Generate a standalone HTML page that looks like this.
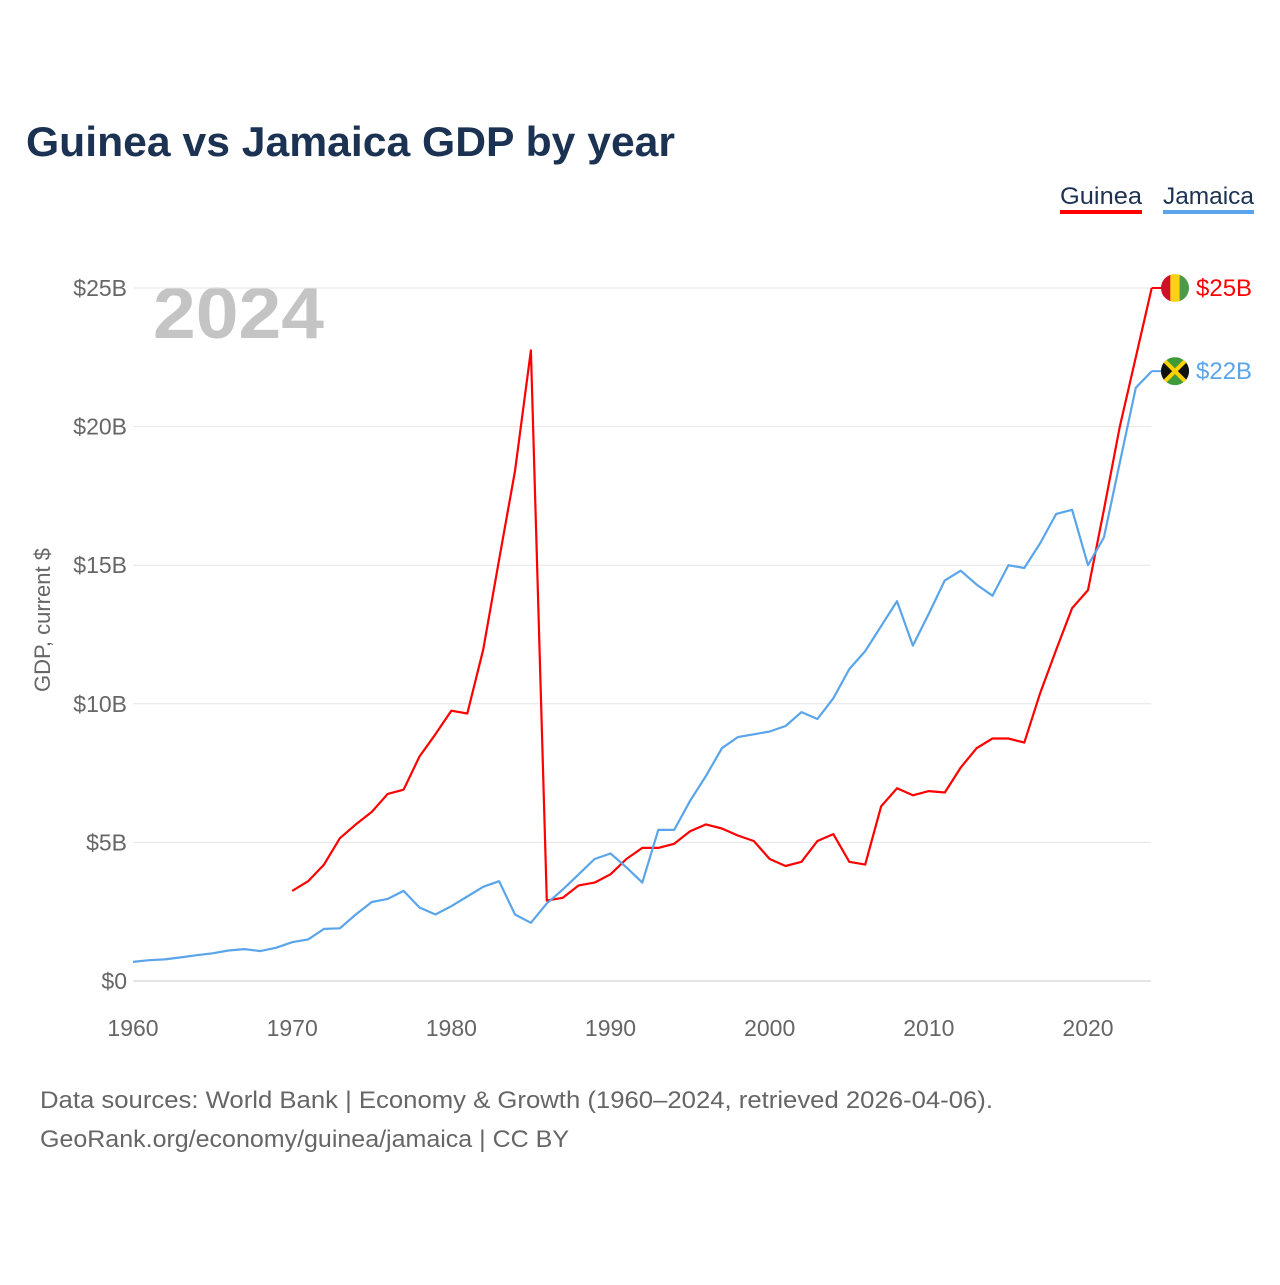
<!DOCTYPE html>
<html><head><meta charset="utf-8"><style>
body{margin:0;background:#fff;font-family:"Liberation Sans",sans-serif}
svg text{font-family:"Liberation Sans",sans-serif}
</style></head><body>
<svg id="c" width="1280" height="1280" xmlns="http://www.w3.org/2000/svg">
<text x="26" y="156" font-size="42" font-weight="bold" fill="#1b3252" textLength="649" lengthAdjust="spacingAndGlyphs">Guinea vs Jamaica GDP by year</text>
<g>
<text x="1060" y="204" font-size="24" fill="#1b3252" textLength="82" lengthAdjust="spacingAndGlyphs">Guinea</text>
<rect x="1060" y="210" width="82" height="4" fill="#ff0000"/>
<text x="1163" y="204" font-size="24" fill="#1b3252" textLength="91" lengthAdjust="spacingAndGlyphs">Jamaica</text>
<rect x="1163" y="210" width="91" height="4" fill="#5aa5ea"/>
</g>
<text x="153" y="338" font-size="72" font-weight="bold" fill="#c4c4c4" textLength="171" lengthAdjust="spacingAndGlyphs">2024</text>
<text transform="translate(50,620) rotate(-90)" text-anchor="middle" font-size="22" fill="#666">GDP, current $</text>
<g id="grid"></g><g id="xt"></g><g id="lines"></g><g id="ends"></g>
<text x="40" y="1108" font-size="24" fill="#666" textLength="953" lengthAdjust="spacingAndGlyphs">Data sources: World Bank | Economy &amp; Growth (1960–2024, retrieved 2026-04-06).</text>
<text x="40" y="1147" font-size="24" fill="#666" textLength="529" lengthAdjust="spacingAndGlyphs">GeoRank.org/economy/guinea/jamaica | CC BY</text>
</svg>
<script>
const yTicks=[0,5,10,15,20,25];
const xTicks=[1960,1970,1980,1990,2000,2010,2020];
const jamaicaStart=1960;
const jamaica=[0.69,0.75,0.78,0.85,0.93,1.0,1.1,1.15,1.08,1.2,1.4,1.5,1.88,1.9,2.4,2.85,2.96,3.25,2.65,2.4,2.7,3.05,3.4,3.6,2.4,2.1,2.8,3.3,3.85,4.4,4.6,4.1,3.55,5.45,5.45,6.5,7.4,8.4,8.8,8.9,9.0,9.2,9.7,9.45,10.2,11.25,11.9,12.8,13.7,12.1,13.25,14.45,14.8,14.3,13.9,15.0,14.9,15.8,16.85,17.0,15.0,16.0,18.7,21.4,22.0];
const guineaStart=1970;
const guinea=[3.25,3.6,4.2,5.15,5.65,6.1,6.75,6.9,8.1,8.9,9.75,9.65,11.95,15.2,18.4,22.75,2.9,3.0,3.45,3.55,3.85,4.4,4.8,4.8,4.95,5.4,5.65,5.5,5.25,5.05,4.4,4.15,4.3,5.05,5.3,4.3,4.2,6.3,6.95,6.7,6.85,6.8,7.7,8.4,8.75,8.75,8.6,10.4,11.95,13.45,14.1,17.0,20.0,22.5,25.0];
const X=y=>133+(y-1960)*(1088-133)/60;
const Y=v=>981-v*(981-288)/25;
const NS="http://www.w3.org/2000/svg";
function mk(t,a,p){const e=document.createElementNS(NS,t);for(const k in a)e.setAttribute(k,a[k]);p.appendChild(e);return e;}
const grid=document.getElementById('grid');
yTicks.forEach(v=>{
 const l=mk('line',{x1:133,x2:1151,y1:Y(v),y2:Y(v),stroke:v?'#e6e6e6':'#ccc','stroke-width':1},grid);
 
 
 const t=mk('text',{x:127,y:Y(v)+8,'text-anchor':'end','font-size':23,fill:'#666'},grid);
 t.textContent='$'+v+(v?'B':'');
 
 
});
const xt=document.getElementById('xt');
xTicks.forEach(v=>{
 const t=mk('text',{x:X(v),y:1036,'text-anchor':'middle','font-size':23,fill:'#666'},xt);
 t.textContent=v;
 
 
});
const lines=document.getElementById('lines');
function draw(arr,start,col,name){
 const d=arr.map((v,i)=>(i?'L':'M')+X(start+i).toFixed(1)+','+Y(v).toFixed(1)).join('');
 const p=mk('path',{d:d,fill:'none',stroke:col,'stroke-width':2.2,'stroke-linejoin':'round'},lines);
 
 
 const last=arr[arr.length-1],ly=Y(last);
 const e=mk('line',{x1:X(start+arr.length-1),x2:1162,y1:ly,y2:ly,stroke:col,'stroke-width':2},lines);
 
 
 const t=mk('text',{x:1196,y:ly+8,'font-size':24,fill:col},lines);
 t.textContent='$'+Math.round(last)+'B';
 
 
 return ly;
}
const gy=draw(guinea,guineaStart,'#ff0000','guinea-line');
const jy=draw(jamaica,jamaicaStart,'#5aa5ea','jamaica-line');
const ends=document.getElementById('ends');
const cx=1175,r=14;
let g=mk('g',{},ends);


mk('defs',{},g).innerHTML='<clipPath id="cg"><circle cx="'+cx+'" cy="'+gy+'" r="'+r+'"/></clipPath><clipPath id="cj"><circle cx="'+cx+'" cy="'+jy+'" r="'+r+'"/></clipPath>';
const gg=mk('g',{'clip-path':'url(#cg)'},g);
mk('rect',{x:cx-r,y:gy-r,width:10,height:28,fill:'#ce1126'},gg);
mk('rect',{x:cx-r+9.3,y:gy-r,width:10,height:28,fill:'#fcd116'},gg);
mk('rect',{x:cx-r+18.6,y:gy-r,width:10,height:28,fill:'#4a9a47'},gg);
g=mk('g',{'clip-path':'url(#cj)'},ends);


mk('rect',{x:cx-r,y:jy-r,width:28,height:28,fill:'#3e9a3a'},g);
mk('polygon',{points:`${cx-r},${jy-r} ${cx},${jy} ${cx-r},${jy+r}`,fill:'#111'},g);
mk('polygon',{points:`${cx+r},${jy-r} ${cx},${jy} ${cx+r},${jy+r}`,fill:'#111'},g);
mk('line',{x1:cx-r,y1:jy-r,x2:cx+r,y2:jy+r,stroke:'#fed100','stroke-width':4},g);
mk('line',{x1:cx-r,y1:jy+r,x2:cx+r,y2:jy-r,stroke:'#fed100','stroke-width':4},g);
</script>
</body></html>
